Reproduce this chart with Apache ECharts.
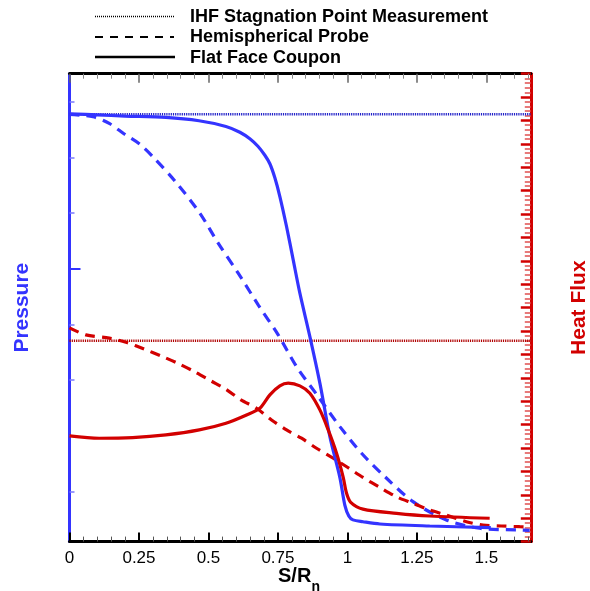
<!DOCTYPE html>
<html><head><meta charset="utf-8">
<script src="https://cdn.jsdelivr.net/npm/echarts@6/dist/echarts.min.js"></script>
<style>html,body{margin:0;padding:0;background:#fff}#c{width:590px;height:591px}</style>
</head><body><div id="c"></div>
<script>
// ---- data ----
const xMax = 1.66;
const xMajorTicks = [0, 0.25, 0.5, 0.75, 1, 1.25, 1.5];
const xMinorTicks = [0.05,0.1,0.15,0.2,0.3,0.35,0.4,0.45,0.55,0.6,0.65,0.7,0.8,0.85,0.9,0.95,1.05,1.1,1.15,1.2,1.3,1.35,1.4,1.45,1.55,1.6,1.65];
const pressureTicks = [1,2,3,4,6,7,8];
const pressureMajorTicks = [5];
const pressureMin = 0.1, pressureMax = 8.5;
const heatMin = 0, heatMax = 20;
const ihfPressure = 7.77;
const ihfHeatFlux = 8.58;
const legendNames = ['IHF Stagnation Point Measurement', 'Hemispherical Probe', 'Flat Face Coupon'];

const flatFacePressure = [[0,7.78],[0.1,7.76],[0.2,7.74],[0.347,7.715],[0.466,7.655],[0.563,7.553],[0.613,7.449],[0.649,7.332],[0.678,7.197],[0.703,7.036],[0.721,6.883],[0.739,6.631],[0.757,6.295],[0.781,5.757],[0.805,5.158],[0.829,4.56],[0.865,3.78],[0.901,2.944],[0.937,1.984],[0.973,1.25],[0.991,0.75],[1.005,0.56],[1.02,0.49],[1.056,0.457],[1.117,0.416],[1.296,0.38],[1.516,0.35]];
const hemiPressure = [[0,7.77],[0.0845,7.727],[0.143,7.607],[0.197,7.418],[0.251,7.242],[0.299,7.014],[0.38,6.57],[0.469,5.997],[0.535,5.458],[0.607,4.919],[0.679,4.35],[0.751,3.811],[0.817,3.242],[0.895,2.703],[0.973,2.164],[1.051,1.686],[1.141,1.237],[1.236,0.817],[1.356,0.488],[1.476,0.339],[1.62,0.308],[1.656,0.30]];
const flatFaceHeat = [[0,4.517],[0.107,4.418],[0.227,4.444],[0.347,4.559],[0.467,4.773],[0.563,5.06],[0.637,5.415],[0.685,5.701],[0.721,6.27],[0.757,6.655],[0.787,6.771],[0.829,6.655],[0.865,6.343],[0.901,5.629],[0.931,4.773],[0.961,3.777],[0.985,2.75],[0.997,2.066],[1.012,1.68],[1.056,1.39],[1.177,1.21],[1.296,1.095],[1.512,0.997]];
const hemiHeat = [[0,9.136],[0.059,8.837],[0.143,8.696],[0.203,8.524],[0.269,8.225],[0.329,7.938],[0.389,7.626],[0.449,7.267],[0.509,6.869],[0.563,6.514],[0.617,6.057],[0.673,5.701],[0.727,5.201],[0.781,4.773],[0.835,4.418],[0.889,3.991],[0.949,3.563],[1.003,3.157],[1.056,2.742],[1.116,2.322],[1.176,1.92],[1.236,1.638],[1.296,1.352],[1.356,1.138],[1.428,0.851],[1.488,0.71],[1.554,0.667],[1.62,0.637],[1.656,0.624]];

// ---- styles ----
const BLUE = '#3434ff', RED = '#d20000';
const FONT = '"Liberation Sans", Arial, Helvetica, sans-serif';
const chart = echarts.init(document.getElementById('c'), null, {renderer: 'canvas'});

const gridL = 69.5, gridR = 590 - 530.8, gridT = 73.7, gridB = 591 - 541.6;

function xAxisDef(pos, ticks, len, width, color, showLine, showLabel) {
  return {
    type: 'value', position: pos, min: 0, max: xMax,
    axisLine: {show: showLine, onZero: false, lineStyle: {color: '#000', width: 3}},
    axisTick: {show: true, inside: true, length: len, customValues: ticks, lineStyle: {color: color, width: width}},
    axisLabel: {show: showLabel, customValues: xMajorTicks, color: '#000', fontSize: 17, fontFamily: FONT, margin: 8},
    splitLine: {show: false}
  };
}

const option = {
  animation: false,
  backgroundColor: '#fff',
  grid: {left: gridL, right: gridR, top: gridT, bottom: gridB, containLabel: false, outerBoundsMode: 'none'},
  xAxis: [
    xAxisDef('bottom', xMajorTicks, 9, 2, '#000', true, true),
    xAxisDef('bottom', xMinorTicks, 5, 1, '#555', false, false),
    xAxisDef('top', xMajorTicks, 9, 1.5, '#666', true, false),
    xAxisDef('top', xMinorTicks, 5, 1, '#888', false, false)
  ],
  yAxis: [
    {
      type: 'value', position: 'left', min: pressureMin, max: pressureMax,
      name: 'Pressure', nameLocation: 'middle', nameGap: 37,
      nameTextStyle: {color: BLUE, fontSize: 21, fontWeight: 'bold', fontFamily: FONT},
      axisLine: {show: true, onZero: false, lineStyle: {color: BLUE, width: 3}},
      axisTick: {show: true, inside: true, length: 5, customValues: pressureTicks, lineStyle: {color: '#7a7aff', width: 1.5}},
      axisLabel: {show: false}, splitLine: {show: false}
    },
    {
      type: 'value', position: 'right', min: heatMin, max: heatMax, interval: 1,
      name: 'Heat Flux', nameLocation: 'middle', nameGap: 38,
      nameTextStyle: {color: RED, fontSize: 21, fontWeight: 'bold', fontFamily: FONT},
      axisLine: {show: true, onZero: false, lineStyle: {color: RED, width: 3}},
      axisTick: {show: true, inside: true, length: 10, lineStyle: {color: RED, width: 2.5}},
      minorTick: {show: true, splitNumber: 5, length: 6, lineStyle: {color: '#e05050', width: 1.5}},
      axisLabel: {show: false}, splitLine: {show: false}
    },
    {
      type: 'value', position: 'left', min: pressureMin, max: pressureMax,
      axisLine: {show: false},
      axisTick: {show: true, inside: true, length: 11, customValues: pressureMajorTicks, lineStyle: {color: BLUE, width: 2}},
      axisLabel: {show: false}, splitLine: {show: false}
    }
  ],
  series: [
    {type: 'line', name: legendNames[0], yAxisIndex: 0, data: [[0, ihfPressure], [xMax, ihfPressure]], symbol: 'none',
     lineStyle: {color: '#2020c8', width: 2.5, type: [1.2, 1]}, z: 3},
    {type: 'line', name: legendNames[0], yAxisIndex: 1, data: [[0, ihfHeatFlux], [xMax, ihfHeatFlux]], symbol: 'none',
     lineStyle: {color: '#b00000', width: 2.5, type: [1.2, 1]}, z: 3},
    {type: 'line', name: legendNames[1], yAxisIndex: 0, data: hemiPressure, symbol: 'none', smooth: 0.3,
     lineStyle: {color: BLUE, width: 3.2, type: [10, 7]}, z: 4},
    {type: 'line', name: legendNames[1], yAxisIndex: 1, data: hemiHeat, symbol: 'none', smooth: 0.3,
     lineStyle: {color: RED, width: 3.2, type: [10, 7]}, z: 4},
    {type: 'line', name: legendNames[2], yAxisIndex: 0, data: flatFacePressure, symbol: 'none', smooth: 0.3,
     lineStyle: {color: BLUE, width: 3.2}, z: 5},
    {type: 'line', name: legendNames[2], yAxisIndex: 1, data: flatFaceHeat, symbol: 'none', smooth: 0.3,
     lineStyle: {color: RED, width: 3.2}, z: 5}
  ],
  graphic: [
    {type: 'line', shape: {x1: 95, y1: 16.5, x2: 174, y2: 16.5}, style: {stroke: '#000', lineWidth: 1.5, lineDash: [1, 1]}},
    {type: 'line', shape: {x1: 95, y1: 37, x2: 174, y2: 37}, style: {stroke: '#000', lineWidth: 2, lineDash: [8, 7]}},
    {type: 'line', shape: {x1: 95, y1: 57, x2: 175, y2: 57}, style: {stroke: '#000', lineWidth: 2.5}},
    {type: 'text', x: 190, y: 17, style: {text: legendNames[0], font: 'bold 18px ' + FONT, fill: '#000', verticalAlign: 'middle'}},
    {type: 'text', x: 190, y: 37.5, style: {text: legendNames[1], font: 'bold 18px ' + FONT, fill: '#000', verticalAlign: 'middle'}},
    {type: 'text', x: 190, y: 58, style: {text: legendNames[2], font: 'bold 18px ' + FONT, fill: '#000', verticalAlign: 'middle'}},
    {type: 'text', x: 278, y: 576, style: {text: 'S/R', font: 'bold 20px ' + FONT, fill: '#000', verticalAlign: 'middle'}},
    {type: 'text', x: 311.5, y: 587, style: {text: 'n', font: 'bold 14px ' + FONT, fill: '#000', verticalAlign: 'middle'}}
  ]
};
chart.setOption(option);
</script>
</body></html>
